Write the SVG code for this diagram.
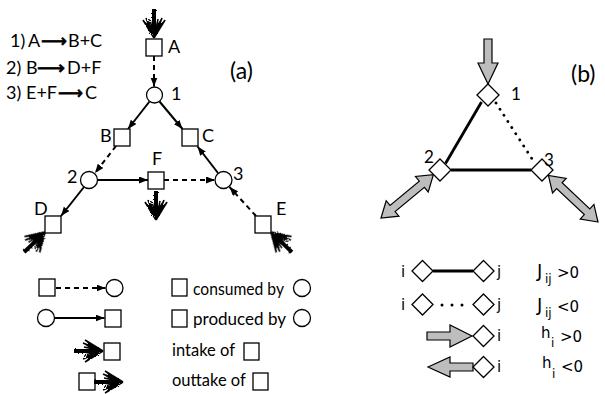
<svg xmlns="http://www.w3.org/2000/svg" xmlns:xlink="http://www.w3.org/1999/xlink" width="605" height="394" viewBox="0 0 605 394">
<style>
.sq{fill:#fff;stroke:#000;stroke-width:1.3}
.ci{fill:#fff;stroke:#000;stroke-width:1.3}
.dm{fill:#fff;stroke:#000;stroke-width:1.3}
.sol{fill:none;stroke:#000;stroke-width:2}
.das{fill:none;stroke:#000;stroke-width:2;stroke-dasharray:5,4}
.gr{fill:#bdbdbd;stroke:#000;stroke-width:1.2;stroke-linejoin:miter}
.ta{font-family:Lato,"Open Sans",sans-serif;font-size:18px;fill:#000}
.tl{font-family:Lato,"Open Sans",sans-serif;font-size:16.5px;fill:#000}
.ar{font-family:"DejaVu Sans",sans-serif;font-size:18px;fill:#000;stroke:#000;stroke-width:0.7}
.tb{font-family:"DejaVu Sans","Liberation Sans",sans-serif;font-size:15px;fill:#000}
.ts{font-family:"DejaVu Sans","Liberation Sans",sans-serif;font-size:12px;fill:#000}
</style>
<defs>
<marker id="ah" markerUnits="userSpaceOnUse" markerWidth="10" markerHeight="8" refX="9" refY="3.5" orient="auto">
<path d="M0,0 L9,3.5 L0,7 z" fill="#000"/>
</marker>
<filter id="fuzz" x="-20%" y="-20%" width="140%" height="140%">
<feTurbulence type="fractalNoise" baseFrequency="0.9" numOctaves="2" seed="3"/>
<feDisplacementMap in="SourceGraphic" scale="2.5"/>
</filter>
<g id="fz" filter="url(#fuzz)">
<line x1="-29" y1="0" x2="-6" y2="0" stroke="#000" stroke-width="4"/>
<line x1="-29" y1="-1.5" x2="-10" y2="-1" stroke="#000" stroke-width="1.2"/>
<line x1="-29" y1="1.5" x2="-10" y2="1" stroke="#000" stroke-width="1.2"/>
<path d="M0,0 L-17,-10 L-13,-5 L-19,-7 L-12,-2 L-14,0 L-12,2 L-19,7 L-13,5 L-17,10 z" fill="#000"/>
<path d="M0,0 L-18,-11 M0,0 L-20,-8 M0,0 L-19,-4 M0,0 L-18,11 M0,0 L-20,8 M0,0 L-19,4 M-3,0 L-15,-7 M-3,0 L-15,7" stroke="#000" stroke-width="1.6" fill="none"/>
</g>
</defs>

<!-- Panel (a) reactions -->
<g id="reactions">
<text class="ta" x="10" y="47">1)</text>
<text class="ta" x="28" y="47">A</text>
<text class="ar" x="41" y="47" textLength="26" lengthAdjust="spacingAndGlyphs">⟶</text>
<text class="ta" x="68" y="47">B+C</text>
<text class="ta" x="6" y="74">2)</text>
<text class="ta" x="26" y="74">B</text>
<text class="ar" x="37" y="74" textLength="28" lengthAdjust="spacingAndGlyphs">⟶</text>
<text class="ta" x="67" y="74">D+F</text>
<text class="ta" x="6" y="99">3)</text>
<text class="ta" x="26" y="99">E+F</text>
<text class="ar" x="58" y="99" textLength="25" lengthAdjust="spacingAndGlyphs">⟶</text>
<text class="ta" x="85" y="99">C</text>
</g>
<text class="ta" x="230" y="79" style="font-size:23px">(a)</text>

<!-- connectors panel a -->
<g id="connectors-a">
<path class="das" d="M154,56 L154,86.5" marker-end="url(#ah)"/>
<path class="sol" d="M149.5,101.5 L128,129" marker-end="url(#ah)"/>
<path class="sol" d="M159.5,101.5 L182.5,129" marker-end="url(#ah)"/>
<path class="das" d="M116,146 L95,173" marker-end="url(#ah)"/>
<path class="sol" d="M84,187 L61,216" marker-end="url(#ah)"/>
<path class="sol" d="M97.5,180 L148,180" marker-end="url(#ah)"/>
<path class="das" d="M164,180 L215,180" marker-end="url(#ah)"/>
<path class="das" d="M256,216 L229.5,187" marker-end="url(#ah)"/>
<path class="sol" d="M218,173 L197.5,146.5" marker-end="url(#ah)"/>
<use xlink:href="#fz" transform="translate(154,38) rotate(90)"/>
<use xlink:href="#fz" transform="translate(156,220) rotate(90)"/>
<use xlink:href="#fz" transform="translate(45,232) rotate(-44)"/>
<use xlink:href="#fz" transform="translate(271,232) rotate(224)"/>
</g>

<g id="nA"><rect class="sq" x="146" y="39" width="16" height="17"/><text class="ta" x="168" y="53">A</text></g>
<g id="r1"><circle class="ci" cx="154.5" cy="95" r="8"/><text class="ta" x="171" y="100">1</text></g>
<g id="nB"><rect class="sq" x="114" y="129" width="16" height="17"/><text class="ta" x="100" y="142">B</text></g>
<g id="nC"><rect class="sq" x="182" y="129" width="16" height="17"/><text class="ta" x="202" y="142">C</text></g>
<g id="r2"><circle class="ci" cx="89" cy="180" r="8.5"/><text class="ta" x="67" y="183">2</text></g>
<g id="nF"><rect class="sq" x="148" y="172" width="16" height="17"/><text class="ta" x="152" y="165">F</text></g>
<g id="r3"><circle class="ci" cx="223.5" cy="180" r="8.5"/><text class="ta" x="233" y="180">3</text></g>
<g id="nD"><rect class="sq" x="45" y="216" width="16" height="17"/><text class="ta" x="34" y="215">D</text></g>
<g id="nE"><rect class="sq" x="255" y="216" width="16" height="17"/><text class="ta" x="276" y="215">E</text></g>

<!-- legend a -->
<g id="legend-a">
<rect class="sq" x="39" y="279" width="16" height="17"/>
<path class="das" d="M56,288 L105.5,288" marker-end="url(#ah)"/>
<circle class="ci" cx="114.5" cy="288" r="8.5"/>
<circle class="ci" cx="46" cy="318" r="8.5"/>
<path class="sol" d="M54.5,318 L104.5,318" marker-end="url(#ah)"/>
<rect class="sq" x="105" y="310" width="16" height="17"/>
<use xlink:href="#fz" transform="translate(103,351)"/>
<rect class="sq" x="104" y="343" width="16" height="17"/>
<rect class="sq" x="79" y="373" width="16" height="17"/>
<use xlink:href="#fz" transform="translate(123,382)"/>

<rect class="sq" x="172" y="279" width="15" height="17"/>
<text class="tl" x="193" y="295" textLength="91" lengthAdjust="spacingAndGlyphs">consumed by</text>
<circle class="ci" cx="302" cy="288" r="8.5"/>
<rect class="sq" x="172" y="310" width="15" height="17"/>
<text class="tl" x="193" y="325" textLength="93" lengthAdjust="spacingAndGlyphs">produced by</text>
<circle class="ci" cx="302" cy="318" r="8.5"/>
<text class="tl" x="172" y="356">intake of</text>
<rect class="sq" x="244" y="343" width="15" height="17"/>
<text class="tl" x="172" y="386">outtake of</text>
<rect class="sq" x="253" y="373" width="15" height="17"/>
</g>

<!-- Panel (b) -->
<text class="ta" x="571" y="82" style="font-size:23px">(b)</text>
<g id="connectors-b">
<line x1="481.5" y1="102" x2="445.5" y2="163.5" stroke="#000" stroke-width="2.8"/>
<line x1="451" y1="170" x2="531" y2="170" stroke="#000" stroke-width="2.8"/>
<line x1="496" y1="103" x2="534" y2="162" stroke="#000" stroke-width="2.8" stroke-dasharray="0.1,7.2" stroke-linecap="round"/>
<path class="gr" d="M484,39 L492,39 L492,63 L498,63 L488,84 L478,63 L484,63 z"/>
<path class="gr" transform="translate(381,218) rotate(-39.6)" d="M0,0 L15,-10 L15,-4 L53,-4 L53,-10 L68,0 L53,10 L53,4 L15,4 L15,10 z"/>
<path class="gr" transform="translate(598,222) rotate(223.2)" d="M0,0 L15,-10 L15,-4 L53,-4 L53,-10 L68,0 L53,10 L53,4 L15,4 L15,10 z"/>
</g>
<g id="s1"><path class="dm" d="M488,84 L499,95 L488,106 L477,95 z"/><text class="ta" x="511" y="100" style="font-size:17px">1</text></g>
<g id="s2"><path class="dm" d="M440,159 L451,170 L440,181 L429,170 z"/><text class="ta" x="424" y="163" style="font-size:17px">2</text></g>
<g id="s3"><path class="dm" d="M542,159 L553,170 L542,181 L531,170 z"/><text class="ta" x="544" y="166" style="font-size:17px">3</text></g>

<!-- legend b -->
<g id="legend-b">
<text class="tb" x="401" y="277">i</text>
<path class="dm" d="M422.5,260.5 L433,271 L422.5,281.5 L412,271 z"/>
<line x1="433" y1="271" x2="473" y2="271" stroke="#000" stroke-width="3"/>
<path class="dm" d="M483.5,260.5 L494,271 L483.5,281.5 L473,271 z"/>
<text class="tb" x="497" y="277">j</text>
<text class="tb" x="537" y="277" style="font-size:18px">J</text>
<text class="ts" x="545" y="283">ij</text>
<text class="tb" x="557" y="278">&gt;0</text>

<text class="tb" x="401" y="310">i</text>
<path class="dm" d="M422.5,294 L433,304.5 L422.5,315 L412,304.5 z"/>
<circle cx="442" cy="305" r="1.5" fill="#000"/>
<circle cx="452" cy="305" r="1.5" fill="#000"/>
<circle cx="462" cy="305" r="1.5" fill="#000"/>
<path class="dm" d="M483.5,294 L494,304.5 L483.5,315 L473,304.5 z"/>
<text class="tb" x="497" y="310">j</text>
<text class="tb" x="537" y="311" style="font-size:18px">J</text>
<text class="ts" x="545" y="317">ij</text>
<text class="tb" x="557" y="312">&lt;0</text>

<path class="gr" d="M427,332 L450,332 L450,325 L472,336 L450,347 L450,340 L427,340 z"/>
<path class="dm" d="M483.5,325.5 L494,336 L483.5,346.5 L473,336 z"/>
<text class="tb" x="497" y="341">i</text>
<text class="tb" x="541" y="338">h</text>
<text class="ts" x="551" y="347">i</text>
<text class="tb" x="560" y="342">&gt;0</text>

<path class="gr" d="M428,367 L450,357 L450,363 L473,363 L473,371 L450,371 L450,377 z"/>
<path class="dm" d="M483.5,356.5 L494,367 L483.5,377.5 L473,367 z"/>
<text class="tb" x="497" y="372">i</text>
<text class="tb" x="542" y="368">h</text>
<text class="ts" x="552" y="378">i</text>
<text class="tb" x="561" y="372">&lt;0</text>
</g>
</svg>
